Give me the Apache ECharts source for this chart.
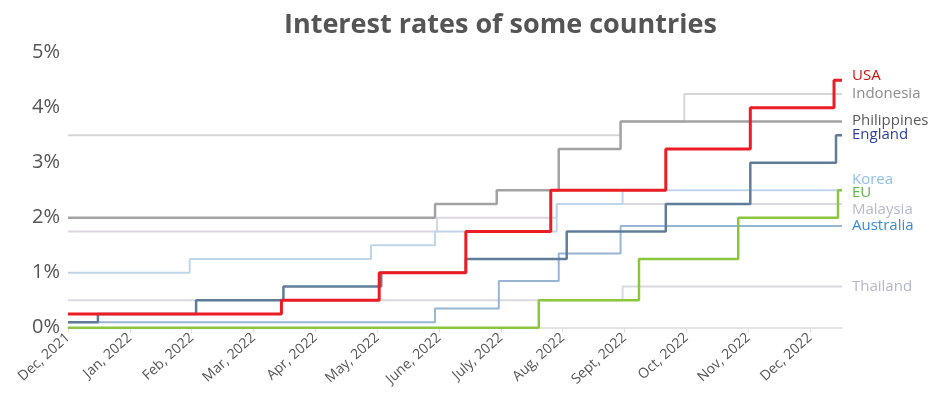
<!DOCTYPE html>
<html>
<head>
<meta charset="utf-8">
<script src="https://cdn.jsdelivr.net/npm/echarts@6/dist/echarts.min.js"></script>
<style>
html,body{margin:0;padding:0;background:#fff;}
#chart{width:935px;height:399px;}
</style>
</head>
<body>
<div id="chart"></div>
<script>
// ---- data ----
const tickLabels = ['Dec, 2021','Jan, 2022','Feb, 2022','Mar, 2022','Apr, 2022','May, 2022','June, 2022','July, 2022','Aug, 2022','Sept, 2022','Oct, 2022','Nov, 2022','Dec, 2022'];
const yTicks = [0, 1, 2, 3, 4, 5];
const startDate = '2021-12-01';
const endDate = '2022-12-17';

const thailandDates = ['2021-12-01','2022-08-31'];
const thailandRates = [0.5, 0.75];
const malaysiaDates = ['2021-12-01','2022-05-31','2022-07-29'];
const malaysiaRates = [1.75, 2.0, 2.25];
const indonesiaDates = ['2021-12-01','2022-08-30','2022-09-30'];
const indonesiaRates = [3.5, 3.75, 4.25];
const koreaDates = ['2021-12-01','2022-01-31','2022-04-28','2022-05-30','2022-07-29','2022-08-31'];
const koreaRates = [1.0, 1.25, 1.5, 1.75, 2.25, 2.5];
const australiaDates = ['2021-12-01','2022-05-30','2022-06-30','2022-07-30','2022-08-30'];
const australiaRates = [0.1, 0.35, 0.85, 1.35, 1.85];
const euDates = ['2021-12-01','2022-07-20','2022-09-08','2022-10-27','2022-12-15'];
const euRates = [0, 0.5, 1.25, 2.0, 2.5];
const philippinesDates = ['2021-12-01','2022-05-30','2022-06-29','2022-07-30','2022-08-30'];
const philippinesRates = [2.0, 2.25, 2.5, 3.25, 3.75];
const englandDates = ['2021-12-01','2021-12-16','2022-02-03','2022-03-16','2022-05-03','2022-06-14','2022-08-03','2022-09-21','2022-11-02','2022-12-14'];
const englandRates = [0.1, 0.25, 0.5, 0.75, 1.0, 1.25, 1.75, 2.25, 3.0, 3.5];
const usaDates = ['2021-12-01','2022-03-15','2022-05-02','2022-06-14','2022-07-26','2022-09-21','2022-11-02','2022-12-13'];
const usaRates = [0.25, 0.5, 1.0, 1.75, 2.5, 3.25, 4.0, 4.5];

// ---- helpers ----
function monthIndex(s) {
  const p = s.split('-').map(Number);
  const dim = new Date(p[0], p[1], 0).getDate();
  return (p[0] - 2021) * 12 + (p[1] - 12) + (p[2] - 1) / dim;
}
const xMin = monthIndex(startDate);
const xMax = monthIndex(endDate);
function build(dates, rates) {
  const d = dates.map((s, i) => [monthIndex(s), rates[i]]);
  d.push([xMax, rates[rates.length - 1]]);
  return d;
}

const FONT = 'Open Sans';
const seriesDefs = [
  {name: 'Thailand',    dates: thailandDates,    rates: thailandRates,    line: '#d9d9df', label: '#b3b7ca', w: 2,   dy: 0},
  {name: 'Malaysia',    dates: malaysiaDates,    rates: malaysiaRates,    line: '#ddd6e0', label: '#b6bacb', w: 2,   dy: 6},
  {name: 'Indonesia',   dates: indonesiaDates,   rates: indonesiaRates,   line: '#d6d6d6', label: '#8c8c8c', w: 2,   dy: 0},
  {name: 'Korea',       dates: koreaDates,       rates: koreaRates,       line: '#bfd6ea', label: '#90c0e8', w: 2,   dy: -10},
  {name: 'Australia',   dates: australiaDates,   rates: australiaRates,   line: '#98b5d3', label: '#3a8bd6', w: 2,   dy: 0},
  {name: 'EU',          dates: euDates,          rates: euRates,          line: '#8cc63e', label: '#5db345', w: 2.5, dy: 3},
  {name: 'Philippines', dates: philippinesDates, rates: philippinesRates, line: '#a3a3a3', label: '#5a5a5a', w: 2.5, dy: -1},
  {name: 'England',     dates: englandDates,     rates: englandRates,     line: '#5f7d99', label: '#2b3f9c', w: 2.5, dy: 0},
  {name: 'USA',         dates: usaDates,         rates: usaRates,         line: '#ec1c24', label: '#d01010', w: 3,   dy: -4}
];

const series = seriesDefs.map(s => ({
  name: s.name,
  type: 'line',
  step: 'end',
  showSymbol: false,
  symbol: 'none',
  silent: true,
  data: build(s.dates, s.rates),
  lineStyle: {color: s.line, width: s.w},
  itemStyle: {color: s.line},
  endLabel: {
    show: true,
    formatter: s.name,
    color: s.label,
    fontFamily: FONT,
    fontSize: 15,
    distance: 10,
    offset: [0, s.dy]
  }
}));

const chart = echarts.init(document.getElementById('chart'));
chart.setOption({
  animation: false,
  backgroundColor: '#fff',
  title: {
    text: 'Interest rates of some countries',
    left: 279,
    top: 7,
    textStyle: {fontFamily: FONT, fontWeight: 'bold', fontSize: 27, color: '#555555'}
  },
  grid: {left: 68, right: 93, top: 52.7, bottom: 71.3, containLabel: false},
  xAxis: {
    type: 'value',
    min: xMin,
    max: xMax,
    interval: 1,
    splitLine: {show: false},
    axisLine: {show: true, lineStyle: {color: '#e4e4e4', width: 2}},
    axisTick: {show: true, length: 5, lineStyle: {color: '#dddddd'}, customValues: tickLabels.map((t, i) => i)},
    axisLabel: {
      customValues: tickLabels.map((t, i) => i),
      formatter: v => tickLabels[Math.round(v)] || '',
      rotate: 42,
      margin: 8,
      fontFamily: FONT,
      fontSize: 14,
      color: '#555555'
    }
  },
  yAxis: {
    type: 'value',
    min: yTicks[0],
    max: yTicks[yTicks.length - 1],
    interval: 1,
    splitLine: {show: false},
    axisLine: {show: false},
    axisTick: {show: false},
    axisLabel: {
      formatter: '{value}%',
      margin: 8,
      fontFamily: FONT,
      fontSize: 20,
      color: '#555555'
    }
  },
  series: series
});
</script>
</body>
</html>
